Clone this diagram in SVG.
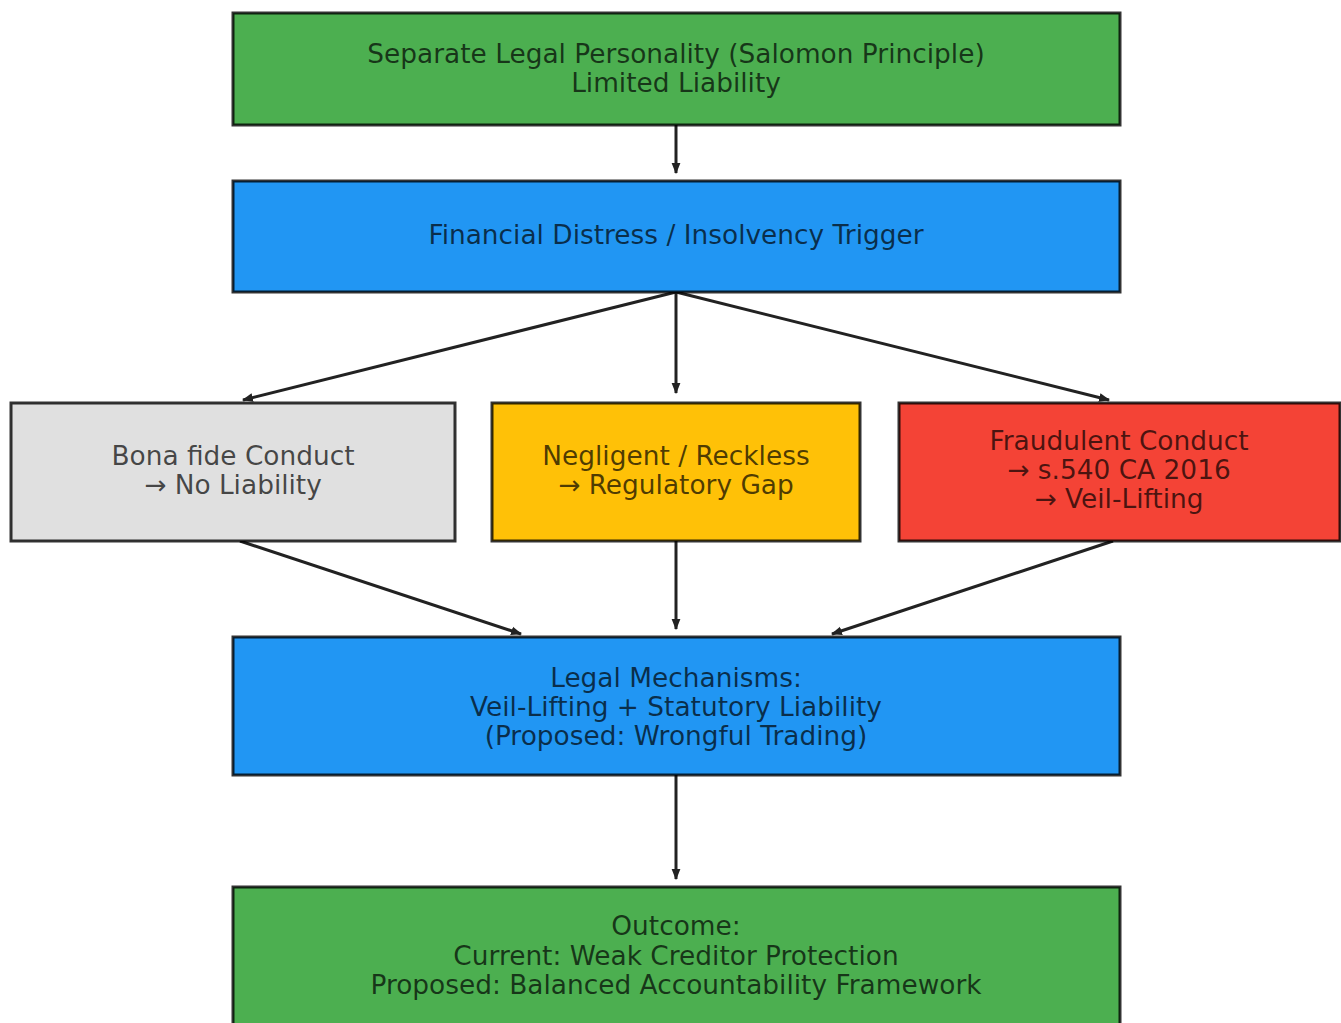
<svg xmlns="http://www.w3.org/2000/svg" width="1341" height="1023" viewBox="0 0 1341 1023">
<defs>
<style>
.box{stroke:#000;stroke-opacity:0.8;stroke-width:3}
.t{font-family:"DejaVu Sans",sans-serif;font-size:26.4px;fill:#000;fill-opacity:0.7;text-anchor:middle;dominant-baseline:central}
.c{stroke:#222;stroke-width:3;fill:none;marker-end:url(#ah)}
</style>
<marker id="ah" viewBox="0 0 10 10" refX="9" refY="5" markerWidth="11" markerHeight="11" markerUnits="userSpaceOnUse" orient="auto">
<path d="M0,1 L10,5 L0,9 Z" fill="#222"/>
</marker>
</defs>
<rect width="1341" height="1023" fill="#fff"/>
<g id="connectors">
<line class="c" x1="676" y1="125" x2="676" y2="173"/>
<line class="c" x1="676" y1="292" x2="243" y2="400"/>
<line class="c" x1="676" y1="292" x2="676" y2="393"/>
<line class="c" x1="676" y1="292" x2="1109" y2="400"/>
<line class="c" x1="240" y1="541" x2="521" y2="634"/>
<line class="c" x1="676" y1="541" x2="676" y2="629"/>
<line class="c" x1="1113" y1="541" x2="832" y2="634"/>
<line class="c" x1="676" y1="775" x2="676" y2="879"/>
</g>
<g id="n1">
<rect class="box" x="233" y="13" width="887" height="112" fill="#4CAF50"/>
<text class="t" x="676" y="53">Separate Legal Personality (Salomon Principle)</text>
<text class="t" x="676" y="82">Limited Liability</text>
</g>
<g id="n2">
<rect class="box" x="233" y="181" width="887" height="111" fill="#2196F3"/>
<text class="t" x="676" y="234">Financial Distress / Insolvency Trigger</text>
</g>
<g id="n3">
<rect class="box" x="11" y="403" width="444" height="138" fill="#E0E0E0"/>
<text class="t" x="233" y="455">Bona fide Conduct</text>
<text class="t" x="233" y="484">→ No Liability</text>
</g>
<g id="n4">
<rect class="box" x="492" y="403" width="368" height="138" fill="#FFC107"/>
<text class="t" x="676" y="455">Negligent / Reckless</text>
<text class="t" x="676" y="484">→ Regulatory Gap</text>
</g>
<g id="n5">
<rect class="box" x="899" y="403" width="441" height="138" fill="#F44336"/>
<text class="t" x="1119" y="440">Fraudulent Conduct</text>
<text class="t" x="1119" y="469">→ s.540 CA 2016</text>
<text class="t" x="1119" y="498">→ Veil-Lifting</text>
</g>
<g id="n6">
<rect class="box" x="233" y="637" width="887" height="138" fill="#2196F3"/>
<text class="t" x="676" y="677">Legal Mechanisms:</text>
<text class="t" x="676" y="706">Veil-Lifting + Statutory Liability</text>
<text class="t" x="676" y="735">(Proposed: Wrongful Trading)</text>
</g>
<g id="n7">
<rect class="box" x="233" y="887" width="887" height="150" fill="#4CAF50"/>
<text class="t" x="676" y="925">Outcome:</text>
<text class="t" x="676" y="955">Current: Weak Creditor Protection</text>
<text class="t" x="676" y="984">Proposed: Balanced Accountability Framework</text>
</g>
</svg>
